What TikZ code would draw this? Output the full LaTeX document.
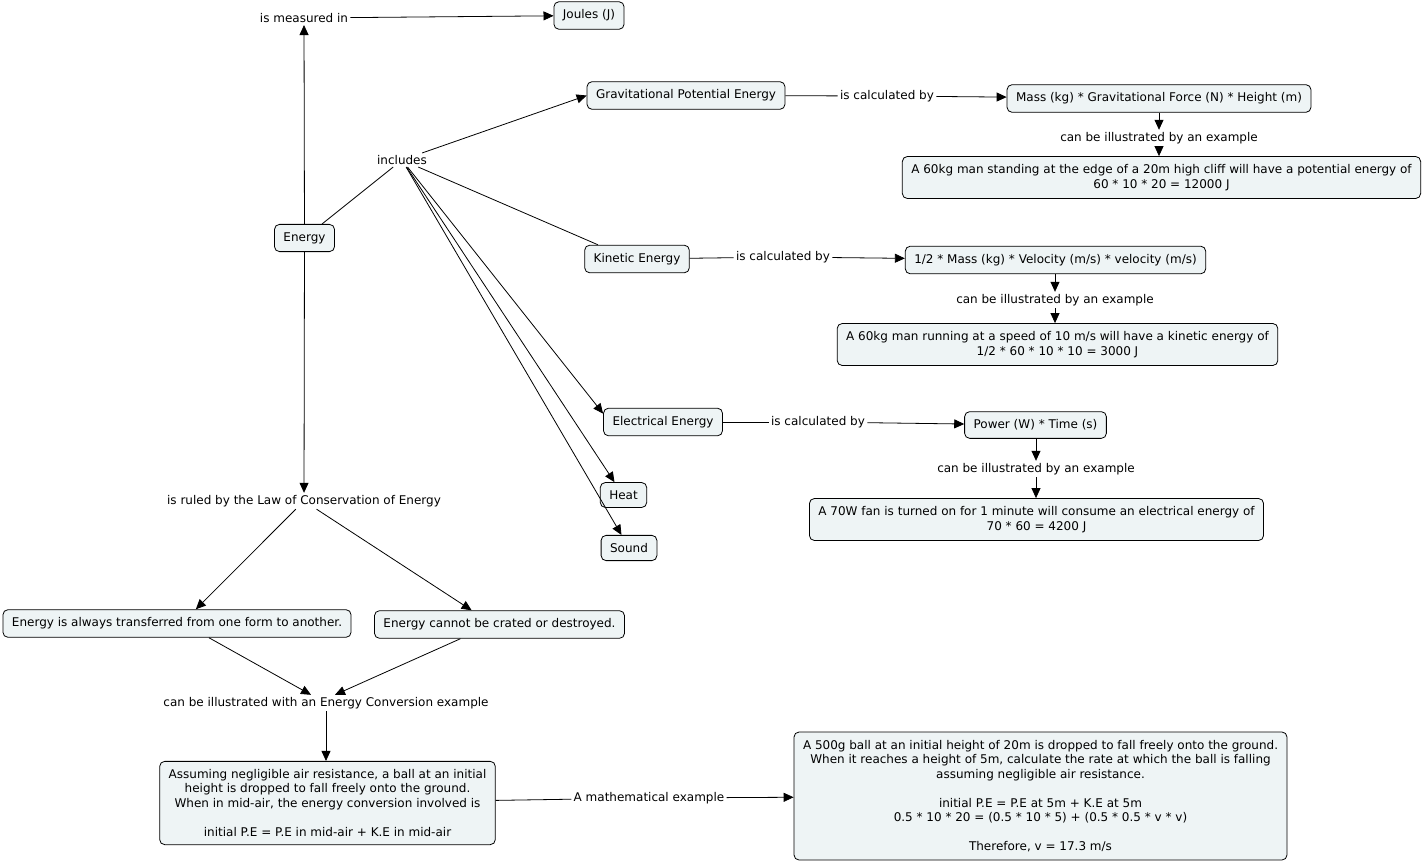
\documentclass[tikz,border=0pt]{standalone}
\usepackage{fontspec}
\setmainfont{DejaVu Sans}
\usetikzlibrary{arrows.meta}
\definecolor{boxfill}{RGB}{238,244,245}
\tikzset{
  concept/.style={draw, rounded corners=5pt, fill=boxfill, inner xsep=9pt, inner ysep=8pt, align=center, font=\fontsize{12}{14.5}\selectfont},
  link/.style={inner sep=2pt, align=center, font=\fontsize{12}{14.5}\selectfont},
  arr/.style={-{Triangle[length=10pt,width=9pt]}}
}
\begin{document}
\begin{tikzpicture}[x=1pt, y=-1pt, line width=0.8pt]
            \useasboundingbox (0,0) rectangle (1425,862);
            % Energy and its unit
            \node[concept] (energy) at (304.5,238) {Energy};
            \node[link] (measured) at (304,18) {is measured in};
            \node[concept] (joules) at (589,15.5) {Joules (J)};
            \node[link] (includes) at (402,160) {includes};
            % Gravitational potential energy
            \node[concept] (gpe) at (686,95.5) {Gravitational Potential Energy};
            \node[link] (gpecalc) at (887,96) {is calculated by};
            \node[concept] (gpeform) at (1159,98.5) {Mass (kg) * Gravitational Force (N) * Height (m)};
            \node[link] (gpeill) at (1159,138) {can be illustrated by an example};
            \node[concept] (gpeex) at (1161.5,177.5) {A 60kg man standing at the edge of a 20m high cliff will have a potential energy of\\60 * 10 * 20 = 12000 J};
            % Kinetic energy
            \node[concept] (ke) at (637,259) {Kinetic Energy};
            \node[link] (kecalc) at (783,257) {is calculated by};
            \node[concept] (keform) at (1055.5,260) {1/2 * Mass (kg) * Velocity (m/s) * velocity (m/s)};
            \node[link] (keill) at (1055,300) {can be illustrated by an example};
            \node[concept] (keex) at (1057.5,344.5) {A 60kg man running at a speed of 10 m/s will have a kinetic energy of\\1/2 * 60 * 10 * 10 = 3000 J};
            % Electrical energy
            \node[concept] (elec) at (663,422) {Electrical Energy};
            \node[link] (eleccalc) at (818,422) {is calculated by};
            \node[concept] (elecform) at (1035.5,425) {Power (W) * Time (s)};
            \node[link] (elecill) at (1036,469) {can be illustrated by an example};
            \node[concept] (elecex) at (1036.5,519.5) {A 70W fan is turned on for 1 minute will consume an electrical energy of\\70 * 60 = 4200 J};
            % Heat and sound
            \node[concept] (heat) at (623.5,495) {Heat};
            \node[concept] (sound) at (629,548) {Sound};
            % Conservation
            \node[link] (ruled) at (304,501) {is ruled by the Law of Conservation of Energy};
            \node[concept] (always) at (177,623.5) {Energy is always transferred from one form to another.};
            \node[concept] (cannot) at (499.5,624.5) {Energy cannot be crated or destroyed.};
            \node[link] (canconv) at (326,703) {can be illustrated with an Energy Conversion example};
            \node[concept] (assum) at (327.5,803) {Assuming negligible air resistance, a ball at an initial\\height is dropped to fall freely onto the ground.\\When in mid-air, the energy conversion involved is\\[14.5pt]initial P.E = P.E in mid-air + K.E in mid-air};
            \node[link] (mathex) at (649,798) {A mathematical example};
            \node[concept] (ball) at (1040.5,796) {A 500g ball at an initial height of 20m is dropped to fall freely onto the ground.\\When it reaches a height of 5m, calculate the rate at which the ball is falling\\assuming negligible air resistance.\\[14.5pt]initial P.E = P.E at 5m + K.E at 5m\\0.5 * 10 * 20 = (0.5 * 10 * 5) + (0.5 * 0.5 * v * v)\\[14.5pt]Therefore, v = 17.3 m/s};
            % Links
            \draw[arr] (energy) -- (measured);
            \draw[arr] (measured) -- (joules);
            \draw (energy) -- (includes);
            \draw[arr] (includes) -- (gpe.west);
            \draw (includes) -- (ke.160);
            \draw[arr] (includes) -- (elec.172);
            \draw[arr] (includes) -- (heat.125);
            \draw[arr] (includes) -- (sound.120);
            \draw (gpe) -- (gpecalc);
            \draw[arr] (gpecalc) -- (gpeform);
            \draw[arr] (gpeform.south -| gpeill) -- (gpeill);
            \draw[arr] (gpeill.south) -- (gpeill.south |- gpeex.north);
            \draw (ke) -- (kecalc);
            \draw[arr] (kecalc) -- (keform);
            \draw[arr] (keform.south -| keill) -- (keill);
            \draw[arr] (keill.south) -- (keill.south |- keex.north);
            \draw (elec) -- (eleccalc);
            \draw[arr] (eleccalc) -- (elecform);
            \draw[arr] (elecform.south -| elecill) -- (elecill);
            \draw[arr] (elecill.south) -- (elecill.south |- elecex.north);
            \draw[arr] (energy) -- (ruled);
            \draw[arr] (ruled) -- (always.37);
            \draw[arr] (ruled) -- (cannot.153);
            \draw[arr] (always.-24) -- ([xshift=-15pt]canconv.north);
            \draw[arr] (cannot.200) -- ([xshift=9pt]canconv.north);
            \draw[arr] (canconv.south) -- (canconv.south |- assum.north);
            \draw (assum) -- (mathex);
            \draw[arr] (mathex) -- (ball);
\end{tikzpicture}
\end{document}
